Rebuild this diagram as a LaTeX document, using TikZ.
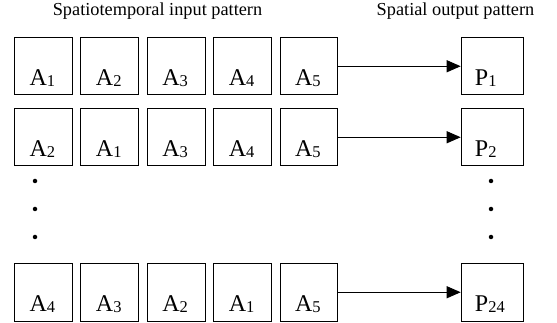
\documentclass[tikz,border=0pt]{standalone}
\usepackage{fontspec}
\setmainfont{Liberation Serif}
\usetikzlibrary{arrows.meta,calc}
\newcommand{\mysub}[1]{\raisebox{-1.5pt}{\fontsize{16.5}{18}\selectfont #1}}
\tikzset{
  box/.style={draw, line width=1pt, minimum width=57.7pt, minimum height=57.5pt, inner sep=0pt, anchor=north west},
  pbox/.style={draw, line width=1pt, minimum width=62pt, minimum height=57.5pt, inner sep=0pt, anchor=north west},
  lbl/.style={font=\fontsize{24}{28}\selectfont, inner sep=0pt, anchor=base},
  plbl/.style={font=\fontsize{24}{28}\selectfont, inner sep=0pt, anchor=base west},
  ttl/.style={font=\fontsize{18.3}{22}\selectfont, inner sep=0pt, anchor=base},
  conn/.style={line width=1pt, -{Triangle[length=14pt,width=12pt]}},
  dot/.style={circle, fill=black, inner sep=0pt, minimum size=4.5pt}
}
\begin{document}
\begin{tikzpicture}[x=1pt,y=-1pt]
\useasboundingbox (0,0) rectangle (557,323);
\node[ttl] (t1) at (157.5,16) {Spatiotemporal input pattern};
\node[ttl] (t2) at (455.5,16) {Spatial output pattern};
% rows
\foreach \r/\y/\a/\b/\c/\d/\p in {1/37/1/2/3/4/1, 2/108/2/1/3/4/2, 3/263/4/3/2/1/24}{
  \node[box] (b\r1) at (14,\y) {};
  \node[box] (b\r2) at (80.4,\y) {};
  \node[box] (b\r3) at (146.8,\y) {};
  \node[box] (b\r4) at (213.2,\y) {};
  \node[box] (b\r5) at (279.6,\y) {};
  \node[pbox] (p\r) at (460.7,\y) {};
  \node[lbl] (l\r1) at ($(b\r1.south)+(-1,-10)$) {A\mysub{\a}};
  \node[lbl] (l\r2) at ($(b\r2.south)+(-1,-10)$) {A\mysub{\b}};
  \node[lbl] (l\r3) at ($(b\r3.south)+(-1,-10)$) {A\mysub{\c}};
  \node[lbl] (l\r4) at ($(b\r4.south)+(-1,-10)$) {A\mysub{\d}};
  \node[lbl] (l\r5) at ($(b\r5.south)+(-1,-10)$) {A\mysub{5}};
  \node[plbl] (pl\r) at ($(p\r.south west)+(14,-10)$) {P\mysub{\p}};
  \draw[conn] (b\r5.east) -- (p\r.west);
}
% dots
\foreach \i/\y in {1/181,2/209,3/237}{
  \node[dot] (dl\i) at (35,\y) {};
  \node[dot] (dr\i) at (491,\y) {};
}
\end{tikzpicture}
\end{document}
